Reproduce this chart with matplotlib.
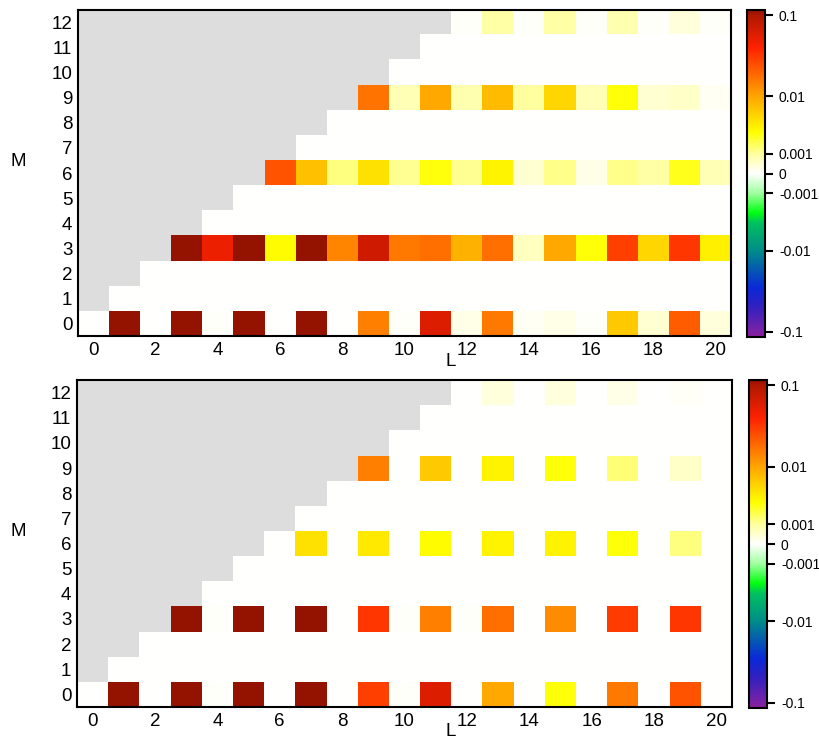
import numpy as np
import matplotlib
matplotlib.use("Agg")
import matplotlib.pyplot as plt
from matplotlib.colors import FuncNorm, LinearSegmentedColormap

plt.rcParams['font.family'] = ['Liberation Sans', 'DejaVu Sans']

L_values = list(range(0, 21))
M_values = list(range(0, 13))
x_ticks = [0, 2, 4, 6, 8, 10, 12, 14, 16, 18, 20]
cbar_ticks = [-0.1, -0.01, -0.001, 0, 0.001, 0.01, 0.1]
cbar_labels = ["-0.1", "-0.01", "-0.001", "0", "0.001", "0.01", "0.1"]

# values for L = M .. 20 in rows M = 0, 3, 6, 9, 12 (other rows are zero)
top_m0 = [0, 0.12, 0.00002, 0.12, 0.00005, 0.12, 0, 0.12, 0, 0.015, 0.00005,
          0.06, 0.0002, 0.016, 0.0001, 0.0002, 0.00005, 0.0062, 0.0004, 0.022, 0.0003]
top_m3 = [0.12, 0.05, 0.12, 0.0031, 0.12, 0.014, 0.07, 0.016, 0.018, 0.0085,
          0.018, 0.0006, 0.0095, 0.0028, 0.03, 0.0052, 0.033, 0.0036]
top_m6 = [0.024, 0.007, 0.0013, 0.0045, 0.0011, 0.0027, 0.0011, 0.0034, 0.0004,
          0.0012, 0.0002, 0.0012, 0.0009, 0.0025, 0.0007]
top_m9 = [0.017, 0.0007, 0.0095, 0.0008, 0.0075, 0.001, 0.0052, 0.0007, 0.0028,
          0.0004, 0.0005, 0.0001]
top_m12 = [0.00005, 0.0009, 0.00005, 0.0009, 0.00005, 0.0008, 0.00005, 0.0003, 0.00003]

bot_m0 = [0, 0.12, 0, 0.12, 0.00003, 0.12, 0, 0.12, 0, 0.03, 0.00003,
          0.06, 0, 0.0095, 0, 0.0028, 0, 0.016, 0, 0.024, 0.00002]
bot_m3 = [0.12, 0.00003, 0.12, 0, 0.12, 0, 0.033, 0.00003, 0.015, 0.00003,
          0.018, 0, 0.013, 0, 0.031, 0, 0.033, 0.00002]
bot_m6 = [0.00002, 0.0045, 0, 0.004, 0.00002, 0.003, 0, 0.0035, 0, 0.0035,
          0, 0.0028, 0, 0.0013, 0]
bot_m9 = [0.015, 0.00002, 0.0062, 0, 0.0035, 0, 0.0028, 0, 0.0014, 0, 0.0005, 0]
bot_m12 = [0, 0.0003, 0, 0.0003, 0, 0.0002, 0, 0.00006, 0]


def build(rows):
    z = np.zeros((len(M_values), len(L_values)))
    for m in M_values:
        for l in L_values:
            if l < m:
                z[m, l] = np.nan
    for m, vals in rows.items():
        z[m, m:m + len(vals)] = vals
    return np.ma.masked_invalid(z)


Z_top = build({0: top_m0, 3: top_m3, 6: top_m6, 9: top_m9, 12: top_m12})
Z_bot = build({0: bot_m0, 3: bot_m3, 6: bot_m6, 9: bot_m9, 12: bot_m12})

C = 0.00143
VMAX = 0.116


def fwd(x):
    x = np.asarray(x, dtype=float)
    return np.sign(x) * np.log1p(np.abs(x) / C)


def inv(y):
    y = np.asarray(y, dtype=float)
    return np.sign(y) * C * np.expm1(np.abs(y))


norm = FuncNorm((fwd, inv), vmin=-VMAX, vmax=VMAX)

anchors = [(-VMAX, '#8a1e9c'), (-0.1, '#7a22a6'), (-0.05, '#3020c0'),
           (-0.03, '#0a28d8'), (-0.01, '#008c88'), (-0.004, '#00c060'),
           (-0.0027, '#00ff10'), (-0.001, '#a0ffa0'), (0, '#ffffff'),
           (0.001, '#ffffa0'), (0.0029, '#ffff00'), (0.01, '#ffa500'),
           (0.041, '#ff2200'), (0.1, '#b01800'), (VMAX, '#941200')]
pos = [float(norm(v)) for v, _ in anchors]
pos[0], pos[-1] = 0.0, 1.0
cmap = LinearSegmentedColormap.from_list('cust', list(zip(pos, [c for _, c in anchors])), N=512)
cmap.set_bad('#dddddd')

fig = plt.figure(figsize=(8.2, 7.39), dpi=100)
W, H = 820, 739


def rect(l, t, r, b):
    return [l / W, 1 - b / H, (r - l) / W, (b - t) / H]


panels = [(Z_top, rect(78, 10, 731, 336), rect(747, 10, 765, 337), 353, 161),
          (Z_bot, rect(77, 380, 732, 707), rect(749, 380, 767, 708), 723, 531)]

for Z, axr, cbr, ly, my in panels:
    ax = fig.add_axes(axr)
    im = ax.imshow(Z, cmap=cmap, norm=norm, origin='lower', aspect='auto',
                   interpolation='nearest', extent=(-0.5, 20.5, -0.5, 12.5))
    ax.set_xticks(x_ticks)
    ax.set_yticks(M_values)
    ax.tick_params(length=0, labelsize=13.5, pad=4)
    for s in ax.spines.values():
        s.set_linewidth(1.5)
    cax = fig.add_axes(cbr)
    cb = fig.colorbar(im, cax=cax)
    cb.set_ticks(cbar_ticks)
    cb.set_ticklabels(cbar_labels)
    cb.ax.tick_params(length=6, width=1.5, labelsize=10, pad=4)
    cb.ax.minorticks_off()
    cb.outline.set_linewidth(1.5)
    fig.text(451 / W, 1 - ly / H, 'L', ha='center', va='top', fontsize=13.5)
    fig.text(18 / W, 1 - my / H, 'M', ha='center', va='center', fontsize=13.5)

fig.savefig('out.png', dpi=100)
